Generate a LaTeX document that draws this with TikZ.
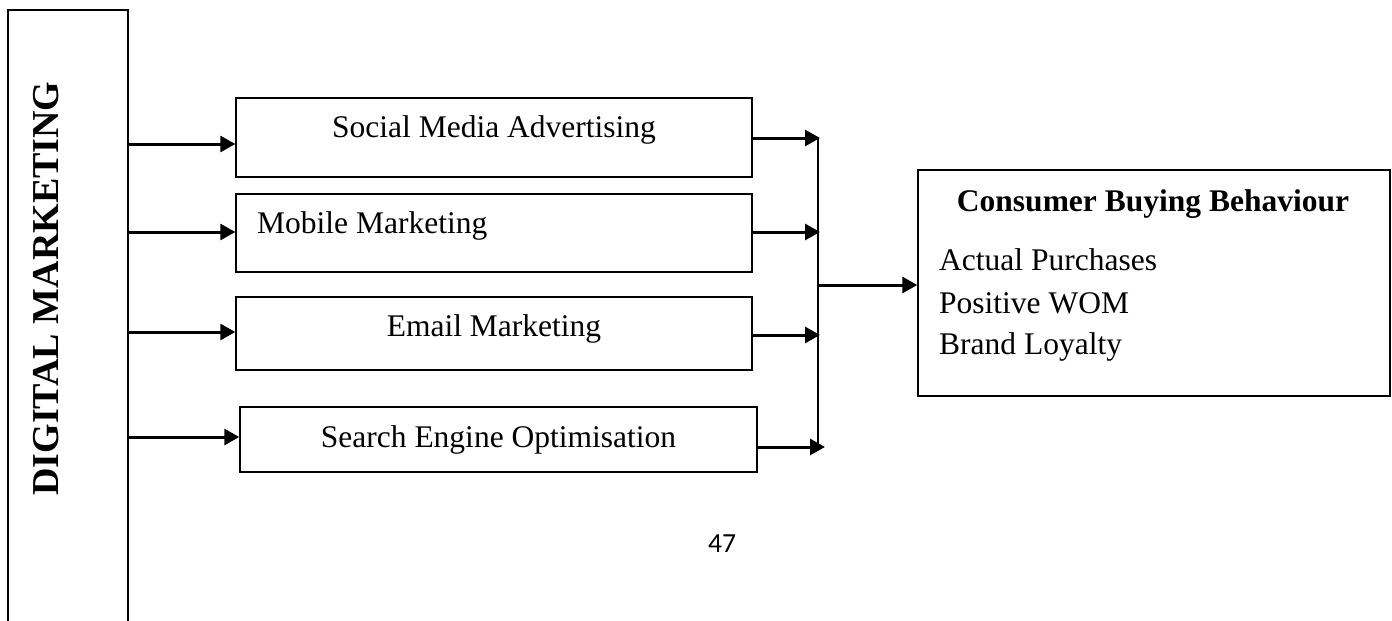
\documentclass[tikz,border=0pt]{standalone}
\usepackage{fontspec}
\setmainfont{Liberation Serif}
\newfontfamily\pagenumfont{Carlito}
\usetikzlibrary{arrows.meta}
\begin{document}
\begin{tikzpicture}[x=1pt,y=-1pt,
  box/.style={draw, line width=1.4pt, inner sep=0pt},
  arr/.style={line width=3pt, -{Triangle[length=15pt,width=16pt]}},
  bus/.style={line width=2pt},
  txt/.style={inner sep=0pt, font=\fontsize{31.5}{38}\selectfont},
  boldtxt/.style={inner sep=0pt, font=\bfseries\fontsize{31.5}{38}\selectfont}]
\useasboundingbox (0,0) rectangle (1392,621);
% left tall box
\node[box, minimum width=120pt, minimum height=630pt] (dm) at (68,325) {};
\node[inner sep=0pt, rotate=90, anchor=base, font=\bfseries\fontsize{38}{46}\selectfont] (dmt) at (58,288.5) {DIGITAL MARKETING};
% middle boxes
\node[box, minimum width=516pt, minimum height=79pt] (b1) at (494,137.5) {};
\node[box, minimum width=516pt, minimum height=78pt] (b2) at (494,233) {};
\node[box, minimum width=516pt, minimum height=73pt] (b3) at (494,333.5) {};
\node[box, minimum width=517pt, minimum height=65pt] (b4) at (498.5,439.5) {};
\node[txt, anchor=base] (t1) at (494,137) {Social Media Advertising};
\node[txt, anchor=base west] (t2) at (257,233) {Mobile Marketing};
\node[txt, anchor=base] (t3) at (494,336) {Email Marketing};
\node[txt, anchor=base] (t4) at (498.5,447) {Search Engine Optimisation};
% right box
\node[box, minimum width=472pt, minimum height=226pt] (cbb) at (1154,283) {};
\node[boldtxt, anchor=base] (cbt) at (1153,211) {Consumer Buying Behaviour};
\node[txt, anchor=base west] (c1) at (939,270) {Actual Purchases};
\node[txt, anchor=base west] (c2) at (939,313) {Positive WOM};
\node[txt, anchor=base west] (c3) at (939,354) {Brand Loyalty};
% page number
\node[inner sep=0pt, anchor=base west, font=\pagenumfont\fontsize{27.6}{33}\selectfont] (pg) at (708,552) {47};
% arrows from left box
\draw[arr] (dm.east |- 0,144) -- (b1.west |- 0,144);
\draw[arr] (dm.east |- 0,232) -- (b2.west |- 0,232);
\draw[arr] (dm.east |- 0,332) -- (b3.west |- 0,332);
\draw[arr] (dm.east |- 0,437) -- (b4.west |- 0,437);
% bus
\coordinate (bt) at (818,138);
\coordinate (bb) at (818,447);
\coordinate (bm) at (818,285);
\coordinate (e1) at (820,138);
\coordinate (e2) at (820,232);
\coordinate (e3) at (820,335);
\coordinate (e4) at (825,447);
\draw[bus] (bt) -- (bb);
\draw[arr] (b1.east |- e1) -- (e1);
\draw[arr] ([xshift=-2pt]b2.east |- e2) -- (e2);
\draw[arr] (b3.east |- e3) -- (e3);
\draw[arr] (b4.east |- e4) -- (e4);
\draw[arr] (bm) -- (cbb.west |- bm);
\end{tikzpicture}
\end{document}
